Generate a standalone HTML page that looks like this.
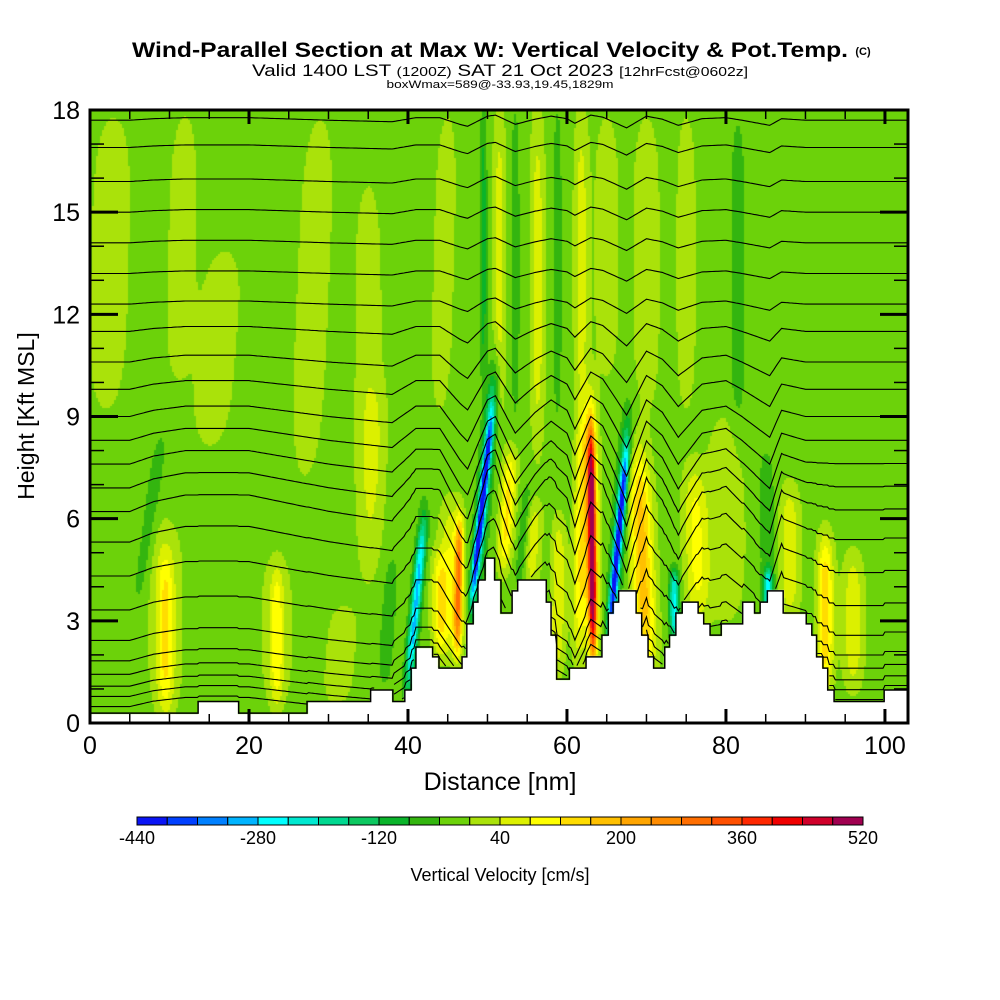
<!DOCTYPE html>
<html><head><meta charset="utf-8"><style>
html,body{margin:0;padding:0;background:#fff;width:1000px;height:1000px;overflow:hidden}
#wrap{position:relative;width:1000px;height:1000px}
canvas{position:absolute;left:0;top:0}
svg{position:absolute;left:0;top:0}
text{font-family:"Liberation Sans",sans-serif;fill:#000}
</style></head><body>
<div id="wrap">
<canvas id="field" width="1000" height="1000"></canvas>
<svg id="svg" width="1000" height="1000">
<text x="490" y="57" font-size="21" font-weight="bold" text-anchor="middle" textLength="716" lengthAdjust="spacingAndGlyphs">Wind-Parallel Section at Max W: Vertical Velocity &amp; Pot.Temp.</text>
<text x="863" y="55" font-size="11" font-weight="bold" text-anchor="middle">(C)</text>
<text x="500" y="76" font-size="17" text-anchor="middle" textLength="496" lengthAdjust="spacingAndGlyphs">Valid 1400 LST <tspan font-size="13">(1200Z)</tspan> SAT 21 Oct 2023 <tspan font-size="13">[12hrFcst@0602z]</tspan></text>
<text x="500" y="88" font-size="11" text-anchor="middle" textLength="227" lengthAdjust="spacingAndGlyphs">boxWmax=589@-33.93,19.45,1829m</text>
<g id="axes"></g>
<text x="500" y="790" font-size="25" text-anchor="middle">Distance [nm]</text>
<text transform="translate(34,416) rotate(-90)" font-size="23" text-anchor="middle">Height [Kft MSL]</text>
<g id="cbar"></g>
<text x="500" y="881" font-size="18" text-anchor="middle">Vertical Velocity [cm/s]</text>
</svg>
</div>
<script>
// ---- data ----
const levelMin = -440, levelStep = 40;
const palette = ["#0a14f5","#0040ff","#0080ff","#00b4ff","#00ffff","#00e8d0","#00d890","#0cc860","#0ab42a","#33b50f","#6cd20a","#aae20a","#dcf000","#ffff00","#ffdc00","#ffc000","#ffa500","#ff8c00","#ff6e00","#ff5000","#ff2800","#f00000","#d0002a","#a00050"];
const cbarTicks = [-440,-280,-120,40,200,360,520];
const xTicks = [0,20,40,60,80,100];
const yTicks = [0,3,6,9,12,15,18];
const baseW = -20;
// features: bottom x(nm), top x(nm), z low(kft), z high(kft), width(nm), amplitude(cm/s)
const featX0 = [2,11,15,27,35,44,6,9.5,9.5,23.5,23.5,31,37,35,40,44,46.2,45.5,48.0,48.3,52,54,55.5,58.8,61.5,63.3,63.2,65.3,65.5,70,73.5,76.5,80,85.3,85.5,88,92.5,96,51.5,56.3,61.8,53.5,58.8,49.5,65,70,75,81.5];
const featX1 = [3,12,17,29,35,45,9,9.5,9.5,23.5,23.5,32,38,36,42,44,46.5,45.5,50.5,51,53,55,56,59,62,63.0,63,67.5,67.7,69,73.5,76,80,85.3,85,88,92.5,96,51.5,56.3,61.8,53.5,58.8,49.5,65,70,75,81.5];
const featZ0 = [9,10,8,7,6,9,3.5,0.3,0.3,0.5,0.5,0.5,1,4,1,2,2,2,3.5,3.5,4.5,4,4,1.5,2,2,2,2.5,2.5,1.5,2.5,3,3,3,3,3,1,1,9,8,9,9,9,10,10,9,9,8];
const featZ1 = [18,18,14,18,16,18,8.5,5,6,4.5,5,3.5,5,10,6,5,6,6.5,9,10.5,8,7,6.5,6,9,8.5,9.5,8,9,8,4.5,7.5,9,4.5,8,7,5.5,5,18,18,18,18,18,18,18,18,18,18];
const featWd = [2.6,1.8,2.6,2.2,1.8,1.4,0.9,1.0,2.2,0.8,2.2,2,1,1.6,0.6,1,0.5,1.5,0.4,0.8,0.9,0.6,1,0.9,0.9,0.45,0.9,0.4,0.8,1.4,0.6,1.5,2.4,0.5,1,1.3,1,1.3,0.8,0.9,0.9,0.5,0.5,0.4,1.6,1.8,1.3,1];
const featAmp = [45,45,45,45,45,45,-45,110,50,100,40,45,-40,45,-280,120,250,100,-330,-170,150,-60,80,100,140,480,170,-330,-160,200,-230,110,55,-230,-50,90,170,90,80,80,80,-50,-50,-80,45,45,45,-40];
// terrain steps: start distance (nm), height (kft)
const terrX = [0,13.6,18.7,27.3,35.3,38.1,39.6,40.4,41.0,43.1,43.9,46.8,47.4,48.2,48.8,49.7,50.9,51.7,53.1,53.8,57.4,58.0,58.7,60.3,62.4,64.4,65.2,65.8,66.5,68.7,69.4,70.2,70.9,72.3,72.9,73.7,74.5,76.5,77.2,78.0,79.4,82.1,83.6,84.3,85.2,87.2,90.1,90.8,91.4,92.2,92.8,93.6,99.9];
const terrH = [0.29,0.63,0.29,0.63,0.97,0.63,0.97,1.61,2.23,1.94,1.61,1.94,2.91,3.55,4.2,4.84,4.2,3.23,3.88,4.2,3.55,2.58,1.29,1.61,1.94,2.58,3.23,3.55,3.88,3.23,2.58,1.94,1.61,2.23,2.58,3.23,3.55,3.23,2.91,2.58,2.91,3.55,3.23,3.55,3.88,3.23,2.91,2.58,1.94,1.61,0.97,0.63,0.97];
// potential temperature contours: base heights (kft) and displacement profile
const thetaBase = [0.45,0.75,1.05,1.4,1.8,2.4,3.3,4.3,5.3,6.2,6.9,7.6,8.3,9.0,9.8,10.6,11.5,12.3,13.2,14.1,15.0,15.9,16.9,17.7];
const dispX = [0,5,8,12,20,30,38,41,44,46.5,47.5,50,51,53.5,56,58,60,61,63,64.5,67.5,70,72,74,77,80,82,85.5,87,90,95,103];
const dispV = [0,0,0.3,0.5,0.5,0,-0.3,0.5,0.5,-0.8,-1.2,0.8,1.0,-0.8,0.2,0.8,0.3,-0.6,1.0,0.6,-1.5,0.8,0.2,-1.0,0.3,0.5,0,-1.0,0.3,0,0,0];

// ---- scales ----
const PX0=90, PX1=908, PY0=723, PY1=110, XMAX=102.9, ZMAX=18;
const sx = d => PX0 + d*(PX1-PX0)/XMAX;
const sy = z => PY0 - z*(PY0-PY1)/ZMAX;
const ix = px => (px-PX0)*XMAX/(PX1-PX0);
const iz = py => (PY0-py)*ZMAX/(PY0-PY1);
function terrain(d){let h=terrH[0];for(let i=0;i<terrX.length;i++){if(d>=terrX[i])h=terrH[i];}return h;}
function W(d,z){
  let w=baseW;
  for(let i=0;i<featX0.length;i++){
    const z0=featZ0[i], z1=featZ1[i];
    const t=Math.max(0,Math.min(1,(z-z0)/(z1-z0)));
    const xc=featX0[i]+(featX1[i]-featX0[i])*t;
    const dx=(d-xc)/featWd[i];
    const zc=(z0+z1)/2, h=(z1-z0)/2;
    const vz=Math.exp(-Math.pow(Math.abs(z-zc)/h,4));
    w+=featAmp[i]*Math.exp(-dx*dx)*vz;
  }
  return w;
}
// ---- field ----
const cv=document.getElementById('field'), ctx=cv.getContext('2d');
const step=2;
for(let py=PY1;py<PY0;py+=step){
  for(let px=PX0;px<PX1;px+=step){
    const d=ix(px+1), z=iz(py+1);
    if(z<terrain(d)) continue;
    let k=Math.floor((W(d,z)-levelMin)/levelStep);
    k=Math.max(0,Math.min(palette.length-1,k));
    ctx.fillStyle=palette[k];
    ctx.fillRect(px,py,step,step);
  }
}
const NS='http://www.w3.org/2000/svg';
const svg=document.getElementById('svg'), axes=document.getElementById('axes');
function mk(tag,attrs,parent){const e=document.createElementNS(NS,tag);for(const k in attrs)e.setAttribute(k,attrs[k]);(parent||svg).appendChild(e);return e;}
// contour lines
function disp(d){for(let i=0;i<dispX.length-1;i++){if(d>=dispX[i]&&d<=dispX[i+1]){const t=(d-dispX[i])/(dispX[i+1]-dispX[i]);return dispV[i]+t*(dispV[i+1]-dispV[i]);}}return 0;}
const gC=mk('g',{},axes);


thetaBase.forEach((c,j)=>{
  const wz = c<6 ? 0.5+0.08*c : Math.max(0.15,1-(c-6)*0.13);
  const tf = Math.max(0,1-c/8)*0.4;
  let pts=[], segs=[];
  for(let d=0; d<=XMAX; d+=0.25){
    const z=c+disp(d)*wz+terrain(d)*tf*(d>38?1:0.3);
    if(z<terrain(d)+0.05 || z>ZMAX){ if(pts.length>1)segs.push(pts); pts=[]; continue; }
    pts.push(sx(d).toFixed(1)+','+sy(z).toFixed(1));
  }
  if(pts.length>1)segs.push(pts);
  segs.forEach(s=>{
    const p=mk('polyline',{points:s.join(' '),fill:'none',stroke:'#000','stroke-width':1.1},gC);
    
    
  });
});
// terrain outline
let tp=[];
for(let i=0;i<terrX.length;i++){const xa=terrX[i], xb=(i+1<terrX.length)?terrX[i+1]:XMAX;tp.push(sx(xa)+','+sy(terrH[i]));tp.push(sx(xb)+','+sy(terrH[i]));}
const tpoly=mk('polyline',{points:tp.join(' '),fill:'none',stroke:'#000','stroke-width':1.5},axes);


// frame
const fr=mk('rect',{x:PX0,y:PY1,width:PX1-PX0,height:PY0-PY1,fill:'none',stroke:'#000','stroke-width':3},axes);


// ticks
for(let d=0; d<=XMAX; d+=5){
  const major=(d%20===0), L=major?14:9;
  mk('line',{x1:sx(d),x2:sx(d),y1:PY0,y2:PY0-L,stroke:'#000','stroke-width':major?3:1.5},axes);
  mk('line',{x1:sx(d),x2:sx(d),y1:PY1,y2:PY1+L,stroke:'#000','stroke-width':major?3:1.5},axes);
}
for(let z=1; z<ZMAX; z++){
  const major=(z%3===0), L=major?28:14;
  mk('line',{x1:PX0,x2:PX0+L,y1:sy(z),y2:sy(z),stroke:'#000','stroke-width':major?3:1.5},axes);
  mk('line',{x1:PX1,x2:PX1-L,y1:sy(z),y2:sy(z),stroke:'#000','stroke-width':major?3:1.5},axes);
}
xTicks.forEach(v=>{const t=mk('text',{x:sx(v),y:754,'font-size':25,'text-anchor':'middle'},axes);t.textContent=v;
  
  });
yTicks.forEach(v=>{const t=mk('text',{x:80,y:sy(v)+9,'font-size':25,'text-anchor':'end'},axes);t.textContent=v;
  
  });
// colorbar
const cb=document.getElementById('cbar');


const CB0=137, CB1=863, cw=(CB1-CB0)/palette.length;
palette.forEach((col,i)=>{const r=mk('rect',{x:CB0+i*cw,y:817,width:cw,height:8,fill:col,stroke:'#000','stroke-width':1},cb);
  
  });
cbarTicks.forEach(v=>{const t=mk('text',{x:CB0+(v-levelMin)/levelStep*cw,y:844,'font-size':18,'text-anchor':'middle'},cb);t.textContent=v;
  
  });
</script>
</body></html>
